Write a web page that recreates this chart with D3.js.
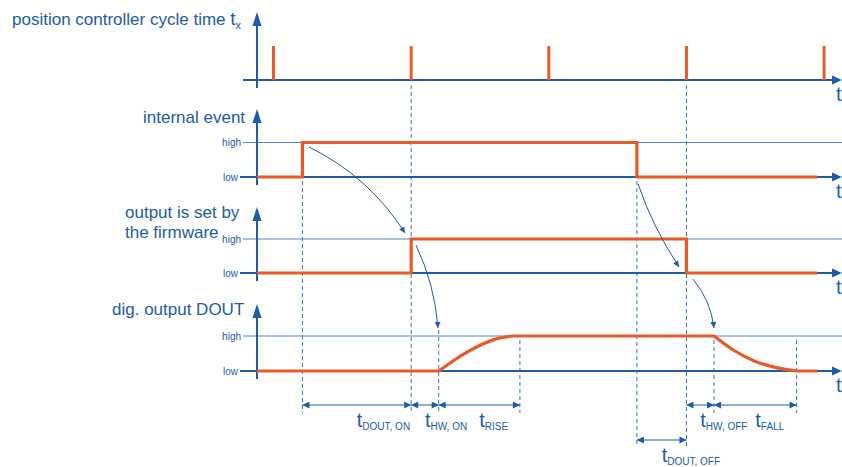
<!DOCTYPE html>
<html><head><meta charset="utf-8">
<script src="https://cdn.jsdelivr.net/npm/d3@7/dist/d3.min.js"></script>
<style>
body{margin:0;background:#fff}
svg{display:block}
text{font-family:"Liberation Sans",Arial,Helvetica,sans-serif}
</style>
</head><body>
<svg id="chart" width="842" height="467"></svg>
<script>
// ---------- data (time in arbitrary units; one controller cycle = 10) ----------
const cycleTimes = [0, 10, 20, 30, 40];               // controller cycle pulses
const eventTimes = [-1.2, 2.1, 26.4, 39.5];            // internal event step times
const eventLevels = [0, 1, 0, 0];
const firmwareTimes = [-1.2, 10, 30, 39.5];            // output set by firmware
const firmwareLevels = [0, 1, 0, 0];
const doutLowStart = [[-1.2, 0], [12, 0]];
const doutRise = [[12, 0], [14.06, 0.54], [15.95, 0.89], [17.4, 1]];
const doutHigh = [[17.4, 1], [32, 1]];
const doutFall = [[32, 1], [33.4, 0.6], [35.1, 0.26], [36.6, 0.09], [38, 0]];
const doutLowEnd = [[38, 0], [39.5, 0]];
const levelNames = ["low", "high"];
const panelTitles = [
  ["position controller cycle time "],
  ["internal event"],
  ["output is set by", "the firmware"],
  ["dig. output DOUT"]
];
const markerTimes = [2.1, 10, 12, 17.9, 26.4, 30, 32, 38];
const dimStart = [2.1, 10, 12, 30, 32, 26.4];
const dimEnd   = [10, 12, 17.9, 32, 38, 30];
const dimRow   = [0, 0, 0, 0, 0, 1];
const dimSubs  = ["DOUT, ON", "HW, ON", "RISE", "HW, OFF", "FALL", "DOUT, OFF"];
// causal arrows: [t0, panel0, level0, t1, panel1, level1, bend]
const causeArrows = [
  [2.58, 1, 0.87, 9.55, 2, 1.18, 18],
  [10.35, 2, 0.82, 11.95, 3, 1.23, 8],
  [26.48, 1, -0.2, 29.46, 2, 0.18, -6],
  [30.47, 2, -0.18, 32.0, 3, 1.23, 8]
];

// ---------- layout ----------
const BLUE = "#1c5ca8", THIN = "#4f86c8", DASH = "#3a74bd", ORANGE = "#e85a28";
const svg = d3.select("#chart");
svg.append("rect").attr("width", 842).attr("height", 467).attr("fill", "#fff");
const x = d3.scaleLinear().domain([-1.2, 41.3]).range([257, 842]);
const panels = [
  {base: 80, high: 46, top: 12},
  {base: 177, high: 142.5, top: 109},
  {base: 273, high: 239, top: 207},
  {base: 371, high: 336, top: 304}
];
panels.forEach(p => p.y = d3.scaleLinear().domain([0, 1]).range([p.base, p.high]));
const dimY = [405, 440];
const axisLeft = 243;

const defs = svg.append("defs");
defs.append("marker").attr("id", "cause").attr("viewBox", "0 0 10 10")
  .attr("refX", 10).attr("refY", 5).attr("markerWidth", 9).attr("markerHeight", 6)
  .attr("markerUnits", "userSpaceOnUse").attr("orient", "auto")
  .append("path").attr("d", "M0,0L10,5L0,10Z").attr("fill", BLUE);
defs.append("marker").attr("id", "dimEnd").attr("viewBox", "0 0 10 10")
  .attr("refX", 10).attr("refY", 5).attr("markerWidth", 9).attr("markerHeight", 7)
  .attr("markerUnits", "userSpaceOnUse").attr("orient", "auto")
  .append("path").attr("d", "M0,0L10,5L0,10Z").attr("fill", BLUE);
defs.append("marker").attr("id", "dimStart").attr("viewBox", "0 0 10 10")
  .attr("refX", 0).attr("refY", 5).attr("markerWidth", 9).attr("markerHeight", 7)
  .attr("markerUnits", "userSpaceOnUse").attr("orient", "auto")
  .append("path").attr("d", "M10,0L0,5L10,10Z").attr("fill", BLUE);

// dashed marker lines
const markerFrom = [181, 85, 330, 340, 181, 85, 340, 340];
const markerTo   = [413, 413, 413, 413, 447, 447, 413, 413];
svg.append("g").selectAll("line").data(markerTimes).join("line")
  .attr("x1", d => x(d)).attr("x2", d => x(d))
  .attr("y1", (d, i) => markerFrom[i]).attr("y2", (d, i) => markerTo[i])
  .attr("stroke", DASH).attr("stroke-width", 1).attr("stroke-dasharray", "4,3");

// panels: axes, level lines, labels
panels.forEach((p, i) => {
  const g = svg.append("g");
  if (i > 0) {
    g.append("line").attr("x1", axisLeft).attr("x2", 842)
      .attr("y1", p.y(1)).attr("y2", p.y(1)).attr("stroke", THIN).attr("stroke-width", 1);
    levelNames.forEach((n, k) => {
      g.append("text").attr("x", k ? 241 : 238).attr("y", p.y(k) + 3.5)
        .attr("text-anchor", "end").attr("font-size", 10).attr("fill", BLUE).text(n);
    });
  }
  // x axis
  g.append("line").attr("x1", i ? 240 : axisLeft).attr("x2", 834)
    .attr("y1", p.base).attr("y2", p.base).attr("stroke", BLUE).attr("stroke-width", 2);
  g.append("path").attr("d", `M842,${p.base}L832,${p.base - 4.5}L832,${p.base + 4.5}Z`).attr("fill", BLUE);
  // y axis
  g.append("line").attr("x1", x(-1.2)).attr("x2", x(-1.2))
    .attr("y1", p.top + 10).attr("y2", p.base + 8).attr("stroke", BLUE).attr("stroke-width", 2);
  g.append("path").attr("d", `M${x(-1.2)},${p.top}L${x(-1.2) - 4.5},${p.top + 14}L${x(-1.2) + 4.5},${p.top + 14}Z`).attr("fill", BLUE);
  g.append("text").attr("x", 836).attr("y", p.base + 21).attr("font-size", 20).attr("fill", BLUE).text("t");
});

// panel titles
const titleX = [12, 143, 125, 112];
const titleY = [25, 123, 218, 315];
panelTitles.forEach((lines, i) => {
  const t = svg.append("text").attr("x", titleX[i]).attr("y", titleY[i])
    .attr("font-size", 17).attr("fill", BLUE);
  lines.forEach((ln, k) => t.append("tspan").attr("x", titleX[i]).attr("dy", k ? 20 : 0).text(ln));
  if (i === 0) {
    t.append("tspan").attr("font-size", 19).text("t");
    t.append("tspan").attr("font-size", 11).attr("dy", 4).text("x");
  }
});

// signal 1: cycle pulses
svg.append("g").selectAll("line").data(cycleTimes).join("line")
  .attr("x1", d => x(d)).attr("x2", d => x(d))
  .attr("y1", panels[0].y(0)).attr("y2", panels[0].y(1))
  .attr("stroke", ORANGE).attr("stroke-width", 3);

// signal 2 & 3: step signals
function stepPath(times, levels, p) {
  return d3.line().x(d => x(d[0])).y(d => p.y(d[1])).curve(d3.curveStepAfter)(times.map((t, i) => [t, levels[i]]));
}
svg.append("path").attr("d", stepPath(eventTimes, eventLevels, panels[1]))
  .attr("fill", "none").attr("stroke", ORANGE).attr("stroke-width", 3.2);
svg.append("path").attr("d", stepPath(firmwareTimes, firmwareLevels, panels[2]))
  .attr("fill", "none").attr("stroke", ORANGE).attr("stroke-width", 3.2);

// signal 4: digital output with rise / fall
const p4 = panels[3];
const lin = d3.line().x(d => x(d[0])).y(d => p4.y(d[1]));
const smooth = d3.line().x(d => x(d[0])).y(d => p4.y(d[1])).curve(d3.curveMonotoneX);
const doutD = lin(doutLowStart) + smooth(doutRise).replace(/^M/, "L") +
  lin(doutHigh).replace(/^M/, "L") + smooth(doutFall).replace(/^M/, "L") + lin(doutLowEnd).replace(/^M/, "L");
svg.append("path").attr("d", doutD).attr("fill", "none").attr("stroke", ORANGE)
  .attr("stroke-width", 3.2).attr("stroke-linejoin", "round");

// causal curved arrows
svg.append("g").selectAll("path").data(causeArrows).join("path")
  .attr("d", a => {
    const x0 = x(a[0]), y0 = panels[a[1]].y(a[2]);
    const x1 = x(a[3]), y1 = panels[a[4]].y(a[5]);
    const dx = x1 - x0, dy = y1 - y0, L = Math.hypot(dx, dy);
    const cx = (x0 + x1) / 2 + a[6] * dy / L, cy = (y0 + y1) / 2 - a[6] * dx / L;
    return `M${x0},${y0}Q${cx},${cy} ${x1},${y1}`;
  })
  .attr("fill", "none").attr("stroke", BLUE).attr("stroke-width", 1).attr("marker-end", "url(#cause)");

// dimension arrows
const dims = dimStart.map((s, i) => ({s, e: dimEnd[i], row: dimRow[i], sub: dimSubs[i]}));
svg.append("g").selectAll("line").data(dims).join("line")
  .attr("x1", d => x(d.s)).attr("x2", d => x(d.e))
  .attr("y1", d => dimY[d.row]).attr("y2", d => dimY[d.row])
  .attr("stroke", BLUE).attr("stroke-width", 1)
  .attr("marker-start", "url(#dimStart)").attr("marker-end", "url(#dimEnd)");
const lab = svg.append("g").selectAll("text").data(dims).join("text")
  .attr("x", d => (x(d.s) + x(d.e)) / 2).attr("y", d => dimY[d.row] + 22)
  .attr("fill", BLUE);
lab.append("tspan").attr("font-size", 20).text("t");
lab.append("tspan").attr("font-size", 10).attr("dy", 3).text(d => d.sub);
</script>
</body></html>
